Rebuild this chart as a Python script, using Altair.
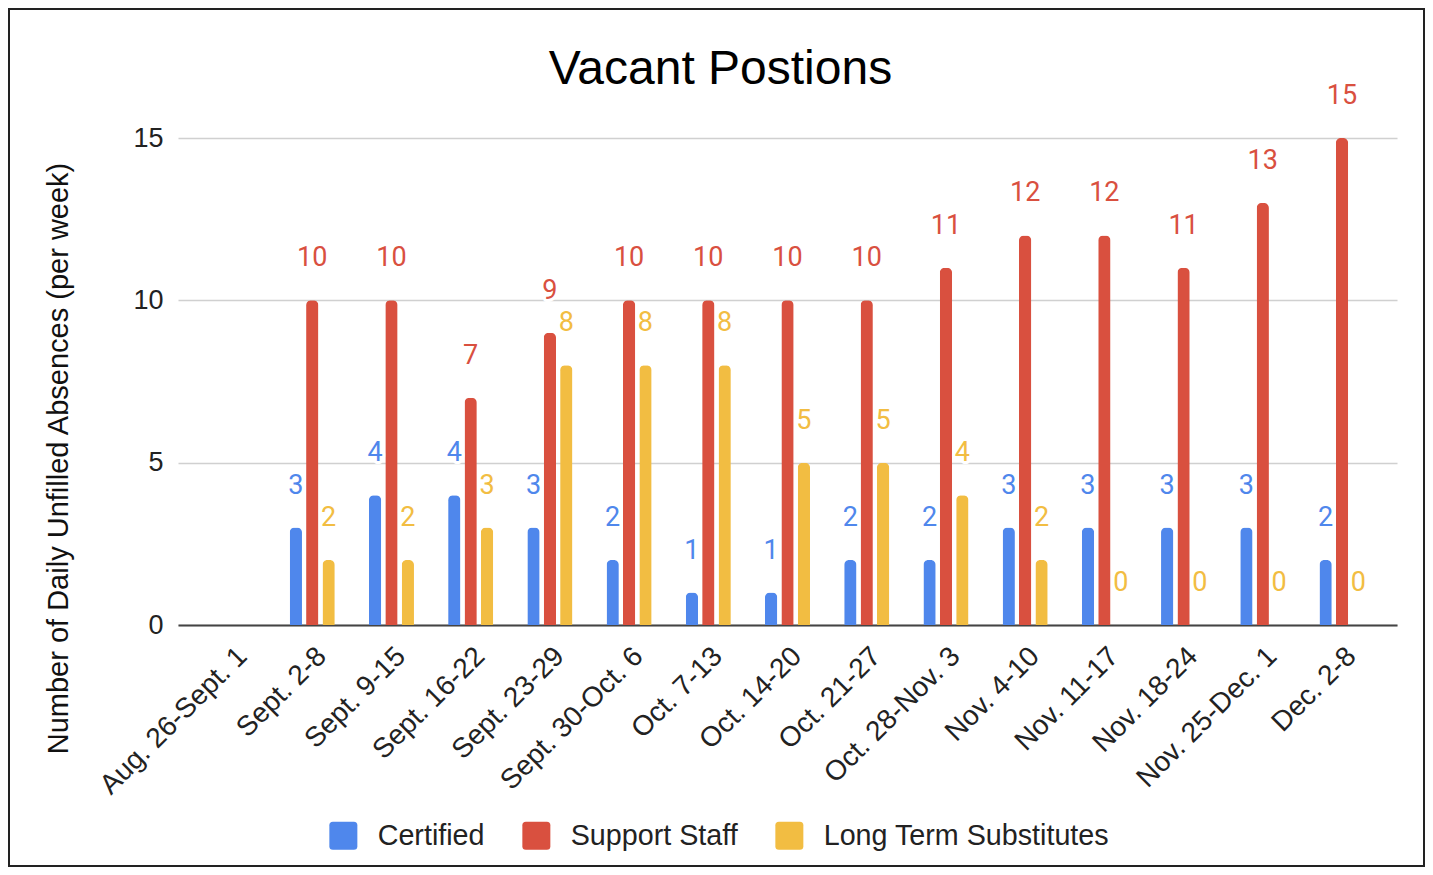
import altair as alt
import pandas as pd

categories = ["Aug. 26-Sept. 1", "Sept. 2-8", "Sept. 9-15", "Sept. 16-22", "Sept. 23-29",
              "Sept. 30-Oct. 6", "Oct. 7-13", "Oct. 14-20", "Oct. 21-27", "Oct. 28-Nov. 3",
              "Nov. 4-10", "Nov. 11-17", "Nov. 18-24", "Nov. 25-Dec. 1", "Dec. 2-8"]
certified = [None, 3, 4, 4, 3, 2, 1, 1, 2, 2, 3, 3, 3, 3, 2]
support_staff = [None, 10, 10, 7, 9, 10, 10, 10, 10, 11, 12, 12, 11, 13, 15]
long_term_subs = [None, 2, 2, 3, 8, 8, 8, 5, 5, 4, 2, 0, 0, 0, 0]

series_names = ["Certified", "Support Staff", "Long Term Substitutes"]
series_colors = ["#4f87ec", "#d9503f", "#f2bd42"]
y_ticks = [0, 5, 10, 15]

rows = []
for name, vals in zip(series_names, [certified, support_staff, long_term_subs]):
    for c, v in zip(categories, vals):
        rows.append({"week": c, "series": name, "value": v})
df = pd.DataFrame(rows)

FONT = "Liberation Sans"
W, H = 1219, 487
PAD_L, PAD_T = 170, 130
PAD_R = 1417 - PAD_L - W
PAD_B = 859 - PAD_T - H

x_enc = alt.X("week:N", sort=categories,
              scale=alt.Scale(domain=categories, paddingInner=0.431, paddingOuter=0.41),
              axis=alt.Axis(title=None, labelAngle=-45, labelAlign="right", labelBaseline="top",
                            labelFontSize=28, labelFont=FONT, labelColor="#222",
                            labelPadding=17, ticks=False, domain=True, domainColor="#444",
                            domainWidth=2, grid=False, labelLimit=400))
xo_enc = alt.XOffset("series:N", sort=series_names,
                     scale=alt.Scale(domain=series_names, paddingInner=0.25, paddingOuter=0))
y_enc = alt.Y("value:Q",
              scale=alt.Scale(domain=[0, 15], nice=False),
              axis=alt.Axis(title="Number of Daily Unfilled Absences (per week)",
                            values=y_ticks, labelFontSize=27, labelFont=FONT, labelColor="#222",
                            labelPadding=15, ticks=False, domain=False,
                            gridColor="#d0d0d0", gridWidth=1.5,
                            titleFont=FONT, titleFontSize=29, titleFontWeight="normal",
                            titleColor="#111", titleX=-120, titleY=320,
                            titleBaseline="middle", titleAngle=270))
color_scale = alt.Scale(domain=series_names, range=series_colors)

rounded = "M -1 -0.75 Q -1 -1 -0.75 -1 L 0.75 -1 Q 1 -1 1 -0.75 L 1 0.75 Q 1 1 0.75 1 L -0.75 1 Q -1 1 -1 0.75 Z"

bars = alt.Chart(df).mark_bar(cornerRadiusTopLeft=5, cornerRadiusTopRight=5).encode(
    x=x_enc, xOffset=xo_enc, y=y_enc,
    color=alt.Color("series:N", sort=series_names, scale=color_scale,
                    legend=alt.Legend(title=None, orient="none", legendX=151, legendY=683,
                                      direction="horizontal", labelFontSize=28.7, labelFont=FONT,
                                      labelColor="#222", symbolType=rounded, symbolSize=784,
                                      symbolStrokeWidth=0, symbolOpacity=1, labelOffset=20,
                                      columnPadding=37, padding=0, labelLimit=500)),
)

halo = alt.Chart(df).mark_text(baseline="alphabetic", dy=-34, font="Roboto", fontSize=27,
                               fill="white", stroke="white", strokeWidth=6,
                               strokeJoin="round").encode(
    x=alt.X("week:N", sort=categories), xOffset=alt.XOffset("series:N", sort=series_names),
    y="value:Q", text="value:Q",
)

labels = alt.Chart(df).mark_text(baseline="alphabetic", dy=-34, font="Roboto", fontSize=27).encode(
    x=alt.X("week:N", sort=categories), xOffset=alt.XOffset("series:N", sort=series_names),
    y="value:Q", text="value:Q",
    color=alt.Color("series:N", sort=series_names, scale=color_scale, legend=None),
)

border = alt.Chart(alt.Data(values=[{"b": 1}])).mark_rect(filled=False, stroke="#222",
                                                         strokeWidth=2).encode(
    x=alt.value(-169), x2=alt.value(W + PAD_R - 1),
    y=alt.value(-129), y2=alt.value(H + PAD_B - 1),
)

chart = alt.layer(bars, halo, labels, border).properties(
    width=W, height=H,
    title=alt.TitleParams("Vacant Postions", font=FONT, fontSize=48, fontWeight="normal",
                          color="#000", anchor="middle", frame="group", dx=-67, dy=90),
    autosize=alt.AutoSizeParams(type="none"),
    padding={"left": PAD_L, "top": PAD_T, "right": PAD_R, "bottom": PAD_B},
).configure(background="white").configure_view(stroke=None)

chart.save("out.html", embed_options={"renderer": "svg", "actions": False})
